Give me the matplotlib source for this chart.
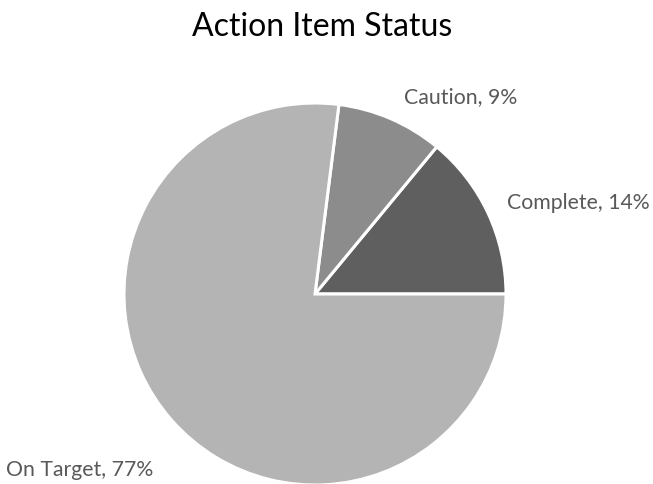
import matplotlib
matplotlib.use("Agg")
import matplotlib.pyplot as plt

categories = ["Complete", "Caution", "On Target"]
values = [14, 9, 77]
colors = ["#5f5f5f", "#8c8c8c", "#b4b4b4"]
title = "Action Item Status"

plt.rcParams['font.family'] = ['Lato', 'DejaVu Sans']

W, H = 653, 484
fig = plt.figure(figsize=(W / 100, H / 100), dpi=100)
ax = fig.add_axes([0, 0, 1, 1])
R = 191.0
cx, cy = 315, 294

ax.pie(values, colors=colors, startangle=0, counterclock=True,
       radius=1, center=(0, 0), frame=True,
       wedgeprops=dict(edgecolor="white", linewidth=2.2))
ax.set_xlim(-cx / R, (W - cx) / R)
ax.set_ylim(-(H - cy) / R, cy / R)
ax.axis("off")

# label positions (pixel coords)
label_pos = {
    "Caution": (461, 97, "center"),
    "Complete": (507, 203, "left"),
    "On Target": (6, 470, "left"),
}
for cat, v in zip(categories, values):
    px, py, ha = label_pos[cat]
    ax.text(px / W, 1 - py / H, f"{cat}, {v}%", transform=ax.transAxes,
            ha=ha, va="center", fontsize=15.3, color="#595959")

fig.text(322 / W, 1 - 27 / H, title, ha="center", va="center",
         fontsize=23, color="#000000")

fig.savefig("out.png", dpi=100)
